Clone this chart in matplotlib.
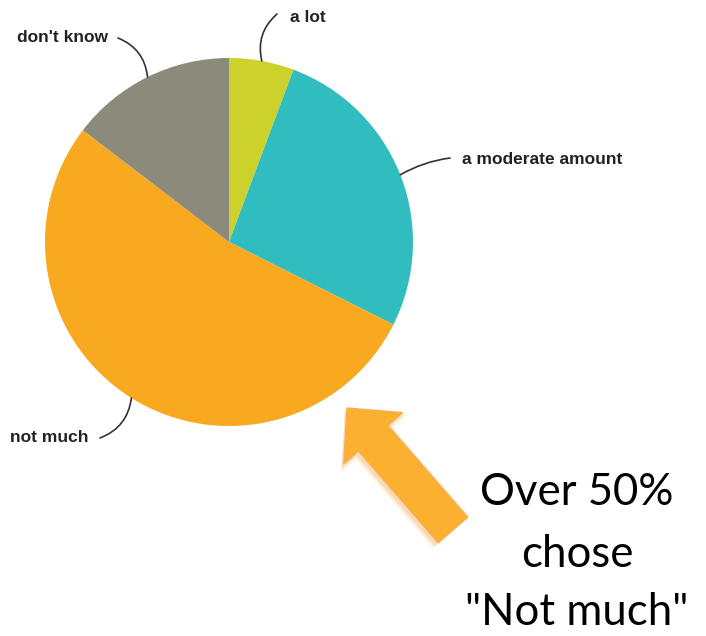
import numpy as np
import matplotlib.pyplot as plt
from matplotlib.patches import FancyArrow

W, H = 706, 636

labels = ['a lot', 'a moderate amount', 'not much', "don't know"]
shares = [5.7, 26.7, 53.0, 14.6]
colors = ['#CCD22B', '#31BDBF', '#F8A920', '#8B8A7B']

# label text anchor (pixel coords, y from top) and alignment
label_pos = [(290, 17), (462, 159), (10, 437), (108, 37)]
label_ha = ['left', 'left', 'left', 'right']
# where the leader line ends near the label
leader_end = [(277, 14), (450, 158), (100, 438), (118, 38)]
leader_rad = [0.3, 0.1, 0.3, -0.3]

note_lines = ['Over 50%', 'chose', '"Not much"']

cx, cy, r = 229, 242, 184

fig = plt.figure(figsize=(W / 100, H / 100), dpi=100)
ax = fig.add_axes([0, 0, 1, 1])

wedges, _ = ax.pie(shares, colors=colors, startangle=90, counterclock=False,
                   center=(cx, H - cy), radius=r, frame=True)
ax.set_xlim(0, W)
ax.set_ylim(0, H)
ax.set_aspect('equal')
ax.axis('off')

for w, lab, (lx, ly), ha, (ex, ey), rad in zip(wedges, labels, label_pos, label_ha,
                                               leader_end, leader_rad):
    ang = np.deg2rad((w.theta1 + w.theta2) / 2)
    px = cx + r * np.cos(ang)
    py = (H - cy) + r * np.sin(ang)
    ax.annotate('', xy=(px, py), xytext=(ex, H - ey),
                arrowprops=dict(arrowstyle='-', color='#333333', lw=1.2,
                                connectionstyle=f'arc3,rad={rad}',
                                shrinkA=0, shrinkB=0))
    ax.text(lx, H - ly, lab, ha=ha, va='center', fontsize=12.5,
            fontweight='bold', family='Liberation Sans', color='#222222')

# big arrow pointing at the "not much" slice
tail = (453, 530)
tip = (347, 408)
dx, dy = tip[0] - tail[0], -(tip[1] - tail[1])
for grow, a in [(10, 0.12), (6, 0.18), (3, 0.25)]:
    ax.add_patch(FancyArrow(tail[0] - 2, H - tail[1] - 2, dx, dy, width=39 + grow,
                            head_width=78 + grow, head_length=40 + grow / 2,
                            length_includes_head=True, color='#F6B25A',
                            alpha=a, lw=0))
arr = FancyArrow(tail[0], H - tail[1], dx, dy, width=39, head_width=78,
                 head_length=40, length_includes_head=True,
                 facecolor='#FBB12F', edgecolor='#F7AE55', lw=1)
ax.add_patch(arr)

for line, base in zip(note_lines, [505, 567, 625]):
    ax.text(577, H - base, line, ha='center', va='baseline', fontsize=31.5,
            family='Lato', color='black')

fig.savefig('out.png', dpi=100)
